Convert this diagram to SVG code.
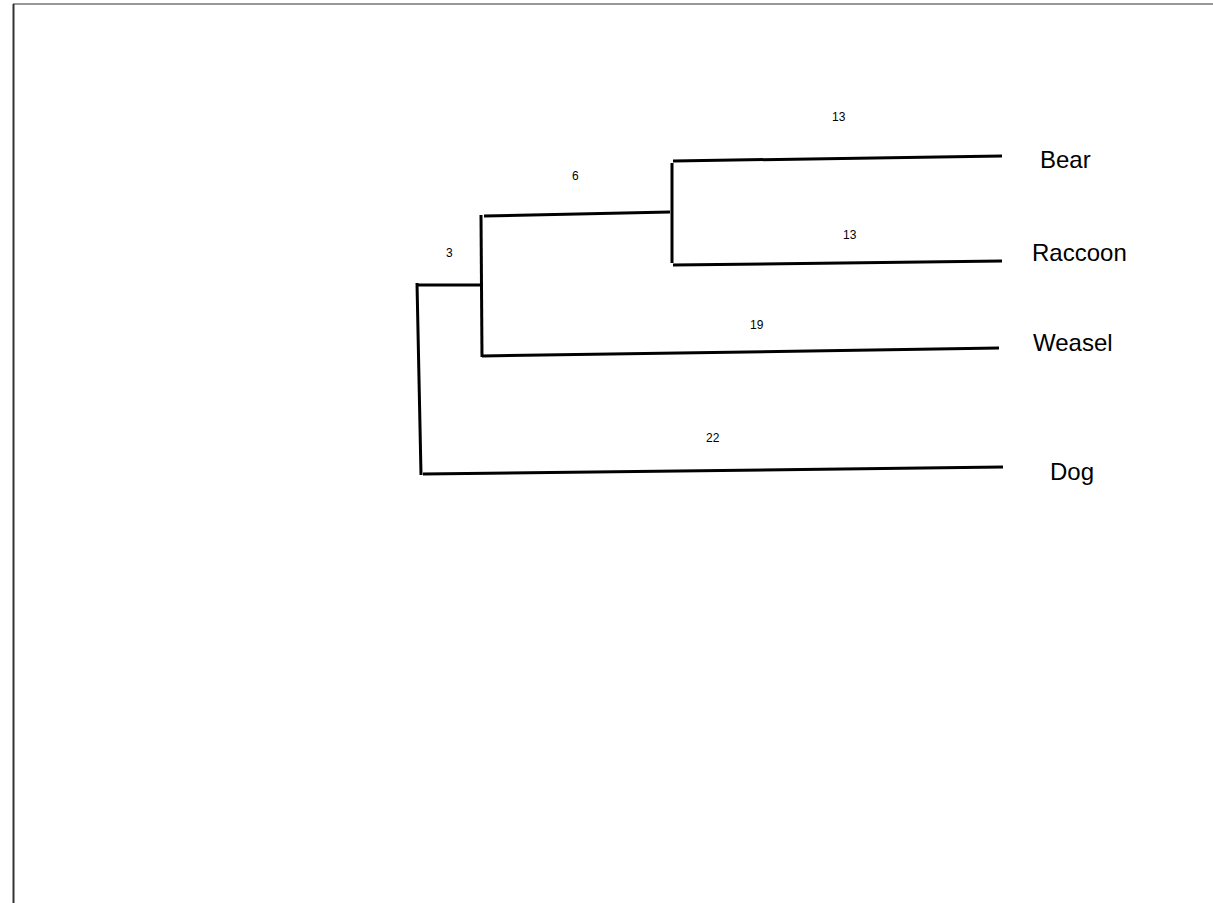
<svg xmlns="http://www.w3.org/2000/svg" width="1213" height="903" viewBox="0 0 1213 903">
<style>
.br{stroke:#000;stroke-width:3;fill:none;stroke-linecap:butt}
.lab{font-family:"Liberation Sans",Arial,sans-serif;font-size:24px;fill:#000}
.num{font-family:"Liberation Sans",Arial,sans-serif;font-size:12px;fill:#000}
</style>
<rect width="1213" height="903" fill="#fff"/>
<line x1="13" y1="4" x2="1213" y2="4" stroke="#999" stroke-width="2"/>
<line x1="13.5" y1="4" x2="13.5" y2="903" stroke="#333" stroke-width="2"/>
<g id="connectors">
<path class="br" d="M417,283 L421,475"/>
<path class="br" d="M417,285 L481,285"/>
<path class="br" d="M423,474 L1003,467"/>
<path class="br" d="M481,215 L482,357"/>
<path class="br" d="M484,216 L670,212"/>
<path class="br" d="M482,356 L999,348"/>
<path class="br" d="M672,163 L672,263"/>
<path class="br" d="M673,161 L1002,156"/>
<path class="br" d="M673,265 L1002,261"/>
</g>
<g id="edge-labels">
<text class="num" x="832" y="121">13</text>
<text class="num" x="843" y="239">13</text>
<text class="num" x="750" y="329">19</text>
<text class="num" x="706" y="442">22</text>
<text class="num" x="572" y="180">6</text>
<text class="num" x="446" y="257">3</text>
</g>
<g id="node-bear"><text class="lab" x="1040" y="168">Bear</text></g>
<g id="node-raccoon"><text class="lab" x="1032" y="261">Raccoon</text></g>
<g id="node-weasel"><text class="lab" x="1033" y="351">Weasel</text></g>
<g id="node-dog"><text class="lab" x="1050" y="480">Dog</text></g>
</svg>
